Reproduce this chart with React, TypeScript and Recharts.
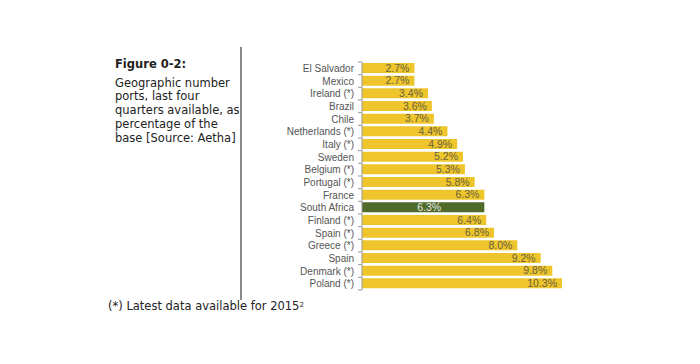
import { BarChart, Bar, XAxis, YAxis, Cell, LabelList } from "recharts";

const countries = [
  "El Salvador", "Mexico", "Ireland (*)", "Brazil", "Chile", "Netherlands (*)",
  "Italy (*)", "Sweden", "Belgium (*)", "Portugal (*)", "France", "South Africa",
  "Finland (*)", "Spain (*)", "Greece (*)", "Spain", "Denmark (*)", "Poland (*)",
];
const ports = [2.7, 2.7, 3.4, 3.6, 3.7, 4.4, 4.9, 5.2, 5.3, 5.8, 6.3, 6.3, 6.4, 6.8, 8.0, 9.2, 9.8, 10.3];
const highlight = "South Africa";

const data = countries.map((c, i) => ({ country: c, value: ports[i] }));

const YELLOW = "#EEC62B";
const GREEN = "#4F6B2C";

const CountryTick = (props: any) => {
  const { x, y, payload, index } = props;
  const half = 6.33;
  return (
    <g>
      <text x={x - 8} y={y} dy={3.5} textAnchor="end" fontSize={10} fill="#555" fontFamily="Liberation Sans, Arial, sans-serif">
        {payload.value}
      </text>
      <line x1={x - 4} x2={x} y1={y - half} y2={y - half} stroke="#999" />
      {index === countries.length - 1 && <line x1={x - 4} x2={x} y1={y + half} y2={y + half} stroke="#999" />}
    </g>
  );
};

const ValueLabel = (props: any) => {
  const { x, y, width, height, value, index } = props;
  const isHl = countries[index] === highlight;
  return (
    <text
      x={isHl ? x + width / 2 + 6 : x + width - 5}
      y={y + height / 2}
      dy={3.5}
      textAnchor={isHl ? "middle" : "end"}
      fontSize={10.5}
      fill={isHl ? "#e8e8e0" : "#6a6040"}
      fontFamily="Liberation Sans, Arial, sans-serif"
    >
      {value.toFixed(1)}%
    </text>
  );
};

const textStyle: React.CSSProperties = {
  fontFamily: "DejaVu Sans, Verdana, sans-serif",
  fontSize: 11.5,
  lineHeight: "13.7px",
  color: "#222",
};

export default function App() {
  return (
    <div style={{ position: "absolute", left: 0, top: 0, width: 700, height: 364, background: "#fff" }}>
      <div style={{ ...textStyle, position: "absolute", left: 115, top: 58, width: 125 }}>
        <div style={{ fontWeight: "bold", marginBottom: 5 }}>Figure 0-2:</div>
        <div>Geographic number ports, last four quarters available, as percentage of the base [Source: Aetha]</div>
      </div>
      <div style={{ position: "absolute", left: 240, top: 47, width: 1.5, height: 253, background: "#8a8a8a" }} />
      <div style={{ ...textStyle, position: "absolute", left: 108, top: 300 }}>
        (*) Latest data available for 2015<sup style={{ fontSize: 7, verticalAlign: "top", lineHeight: "10px" }}>2</sup>
      </div>
      <div style={{ position: "absolute", left: 260, top: 50 }}>
        <BarChart
          layout="vertical"
          width={320}
          height={250}
          data={data}
          margin={{ top: 12, right: 18, bottom: 10, left: 0 }}
          barSize={10}
        >
          <XAxis type="number" domain={[0, 10.3]} hide />
          <YAxis
            type="category"
            dataKey="country"
            width={102}
            axisLine={{ stroke: "#999" }}
            tickLine={false}
            tickSize={0}
            tickMargin={0}
            tick={<CountryTick />}
            interval={0}
          />
          <Bar dataKey="value" isAnimationActive={false}>
            {data.map((d) => (
              <Cell key={d.country} fill={d.country === highlight ? GREEN : YELLOW} />
            ))}
            <LabelList dataKey="value" content={<ValueLabel />} />
          </Bar>
        </BarChart>
      </div>
    </div>
  );
}
